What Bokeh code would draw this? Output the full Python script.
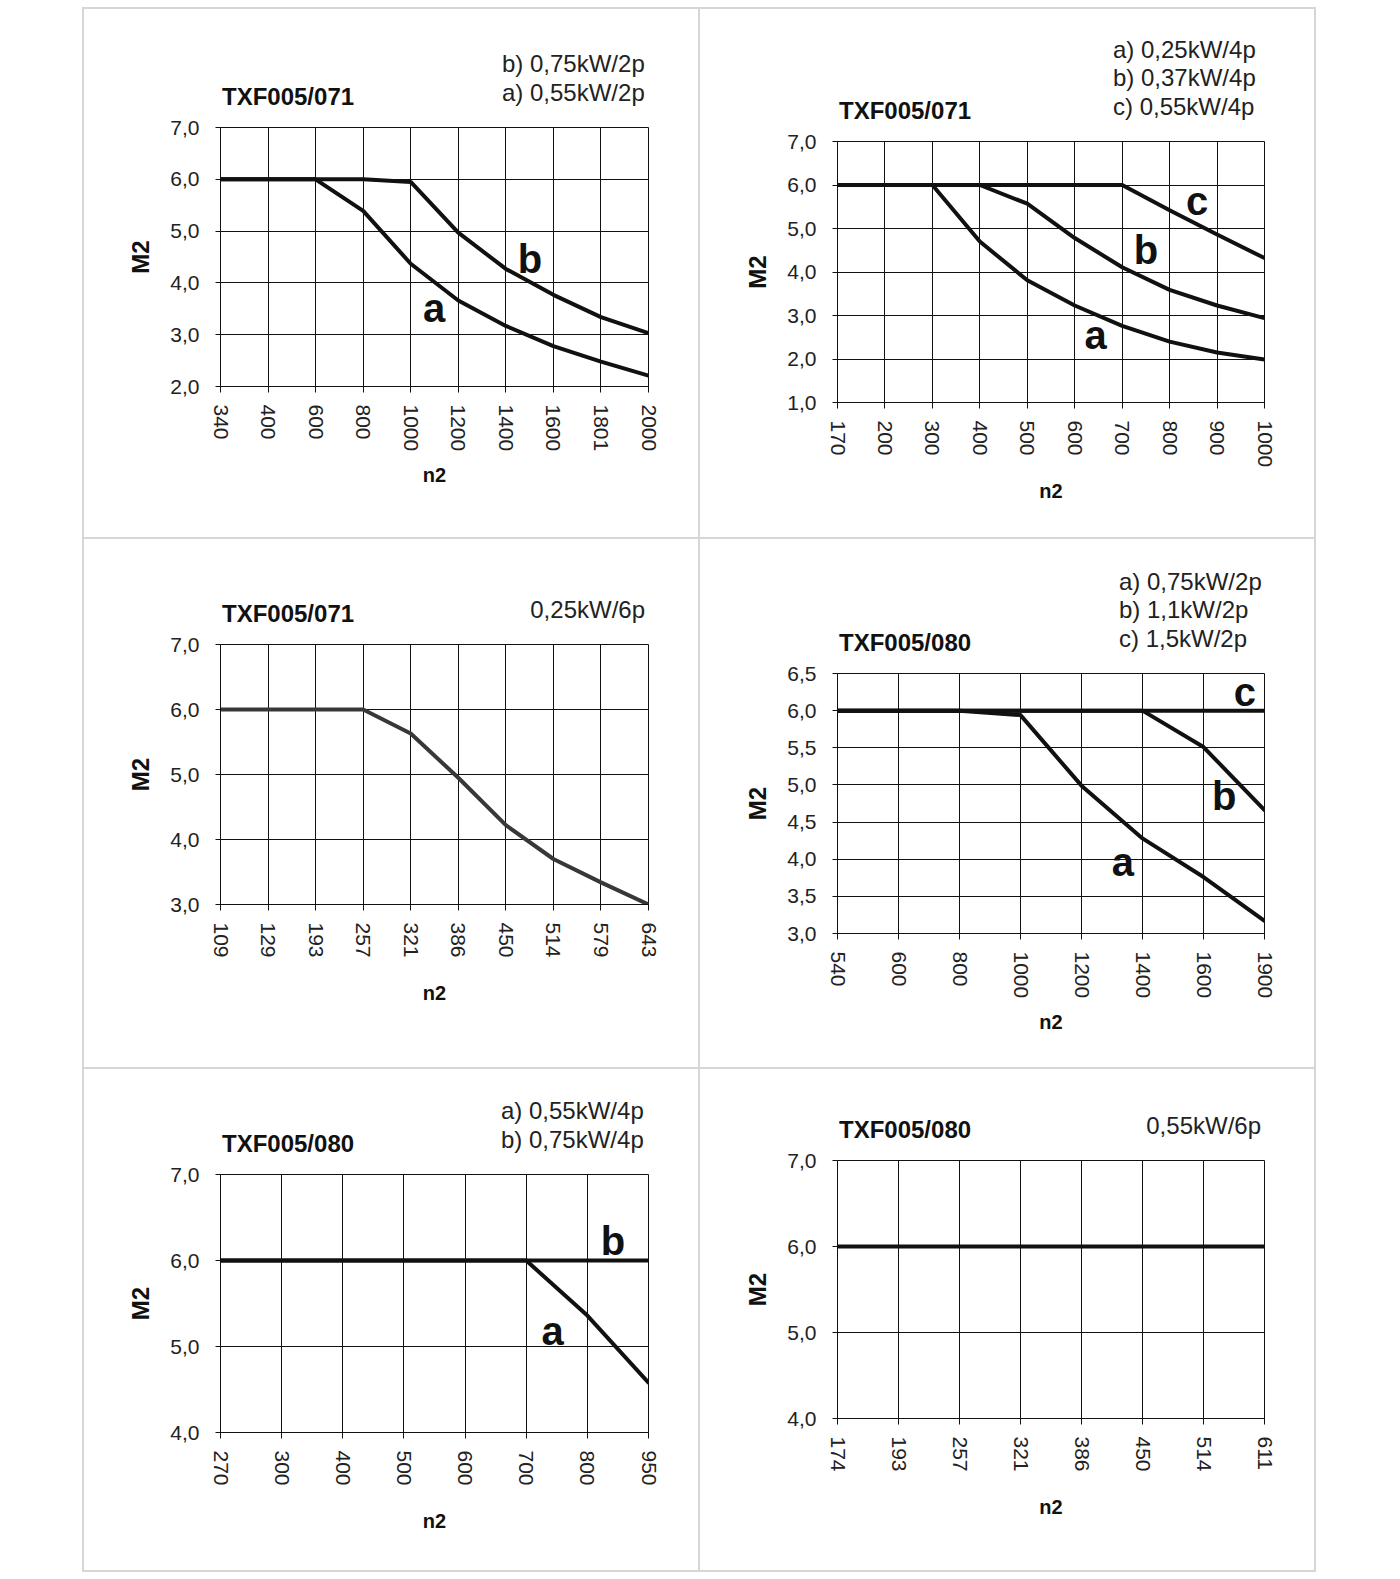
from bokeh.plotting import figure
from bokeh.models import Range1d, FixedTicker, Label, Spacer, Div
from bokeh.layouts import row, column
from bokeh.embed import file_html
from bokeh.resources import INLINE

FONT = "Liberation Sans"

# ---------------- data ----------------
# Panel 1 (top left)
p1_title = "TXF005/071"
p1_legend = ["b) 0,75kW/2p", "a) 0,55kW/2p"]
p1_n2 = ["340", "400", "600", "800", "1000", "1200", "1400", "1600", "1801", "2000"]
p1_a = [6.0, 6.0, 6.0, 5.39, 4.37, 3.66, 3.17, 2.78, 2.48, 2.21]
p1_b = [6.0, 6.0, 6.0, 6.0, 5.95, 4.97, 4.27, 3.77, 3.34, 3.03]
p1_m2 = [2.0, 3.0, 4.0, 5.0, 6.0, 7.0]
p1_m2_labels = ["2,0", "3,0", "4,0", "5,0", "6,0", "7,0"]

# Panel 2 (top right)
p2_title = "TXF005/071"
p2_legend = ["a) 0,25kW/4p", "b) 0,37kW/4p", "c) 0,55kW/4p"]
p2_n2 = ["170", "200", "300", "400", "500", "600", "700", "800", "900", "1000"]
p2_a = [6.0, 6.0, 6.0, 4.70, 3.81, 3.23, 2.76, 2.40, 2.15, 1.99]
p2_b = [6.0, 6.0, 6.0, 6.0, 5.57, 4.78, 4.11, 3.59, 3.23, 2.94]
p2_c = [6.0, 6.0, 6.0, 6.0, 6.0, 6.0, 6.0, 5.42, 4.86, 4.32]
p2_m2 = [1.0, 2.0, 3.0, 4.0, 5.0, 6.0, 7.0]
p2_m2_labels = ["1,0", "2,0", "3,0", "4,0", "5,0", "6,0", "7,0"]

# Panel 3 (middle left)
p3_title = "TXF005/071"
p3_legend = ["0,25kW/6p"]
p3_n2 = ["109", "129", "193", "257", "321", "386", "450", "514", "579", "643"]
p3_a = [6.0, 6.0, 6.0, 6.0, 5.63, 4.95, 4.22, 3.70, 3.34, 3.0]
p3_m2 = [3.0, 4.0, 5.0, 6.0, 7.0]
p3_m2_labels = ["3,0", "4,0", "5,0", "6,0", "7,0"]

# Panel 4 (middle right)
p4_title = "TXF005/080"
p4_legend = ["a) 0,75kW/2p", "b) 1,1kW/2p", "c) 1,5kW/2p"]
p4_n2 = ["540", "600", "800", "1000", "1200", "1400", "1600", "1900"]
p4_a = [6.0, 6.0, 6.0, 5.94, 4.99, 4.28, 3.76, 3.17]
p4_b = [6.0, 6.0, 6.0, 6.0, 6.0, 6.0, 5.51, 4.66]
p4_c = [6.0, 6.0, 6.0, 6.0, 6.0, 6.0, 6.0, 6.0]
p4_m2 = [3.0, 3.5, 4.0, 4.5, 5.0, 5.5, 6.0, 6.5]
p4_m2_labels = ["3,0", "3,5", "4,0", "4,5", "5,0", "5,5", "6,0", "6,5"]

# Panel 5 (bottom left)
p5_title = "TXF005/080"
p5_legend = ["a) 0,55kW/4p", "b) 0,75kW/4p"]
p5_n2 = ["270", "300", "400", "500", "600", "700", "800", "950"]
p5_a = [6.0, 6.0, 6.0, 6.0, 6.0, 6.0, 5.36, 4.58]
p5_b = [6.0, 6.0, 6.0, 6.0, 6.0, 6.0, 6.0, 6.0]
p5_m2 = [4.0, 5.0, 6.0, 7.0]
p5_m2_labels = ["4,0", "5,0", "6,0", "7,0"]

# Panel 6 (bottom right)
p6_title = "TXF005/080"
p6_legend = ["0,55kW/6p"]
p6_n2 = ["174", "193", "257", "321", "386", "450", "514", "611"]
p6_a = [6.0, 6.0, 6.0, 6.0, 6.0, 6.0, 6.0, 6.0]
p6_m2 = [4.0, 5.0, 6.0, 7.0]
p6_m2_labels = ["4,0", "5,0", "6,0", "7,0"]

# ---------------- styling / layout ----------------
PANEL_W = 614
TOP_B = 16
GRAY = "#d6d6d6"


def strip(w, h):
    return Div(text="", width=w, height=h, margin=0,
               styles={"background-color": GRAY})


def header_div(panel_w, head_h, frame_left, frame_w, title, legend, legend_dx):
    ftop = head_h + TOP_B
    spans = []
    base = ("position:absolute;transform:translateY(-50%);line-height:1;"
            "white-space:nowrap;font-family:'Liberation Sans',Arial,sans-serif;"
            "font-size:24px;")
    spans.append('<span style="%sleft:%.1fpx;top:%.1fpx;font-weight:bold;color:#111;">%s</span>'
                 % (base, frame_left + 2, ftop - 30.5, title))
    k_last = len(legend) - 1
    for i, line in enumerate(legend):
        cy = ftop - 34.5 - 28.5 * (k_last - i)
        if legend_dx is None:
            right = panel_w - (frame_left + frame_w - 3)
            pos = "right:%.1fpx;" % right
        else:
            pos = "left:%.1fpx;" % (frame_left + frame_w - legend_dx)
        spans.append('<span style="%s%stop:%.1fpx;color:#222;">%s</span>'
                     % (base, pos, cy, line))
    html = ('<div style="position:relative;width:%dpx;height:%dpx;">%s</div>'
            % (panel_w, head_h, "".join(spans)))
    return Div(text=html, width=panel_w, height=head_h, margin=0,
               styles={"background-color": "white"})


def make_panel(head_h, left, fw, fh, bottom, extra, n2, m2, m2_labels,
               series, letters, title, legend, legend_dx, n2_standoff):
    n = len(n2)
    w = PANEL_W
    h = TOP_B + fh + bottom
    p = figure(width=w, height=h, output_backend="svg", toolbar_location=None,
               x_range=Range1d(0, n - 1), y_range=Range1d(m2[0], m2[-1]),
               min_border_left=left, min_border_top=TOP_B,
               min_border_right=w - left - fw, min_border_bottom=bottom,
               background_fill_color="white", border_fill_color="white",
               margin=0)
    p.outline_line_color = "#111111"
    p.outline_line_width = 1

    xt = list(range(n))
    p.xaxis.ticker = FixedTicker(ticks=xt)
    p.xaxis.major_label_overrides = {i: lab for i, lab in enumerate(n2)}
    p.yaxis.ticker = FixedTicker(ticks=m2)
    p.yaxis.major_label_overrides = {v: lab for v, lab in zip(m2, m2_labels)}
    p.xgrid.ticker = FixedTicker(ticks=xt)
    p.ygrid.ticker = FixedTicker(ticks=m2)
    for g in (p.xgrid, p.ygrid):
        g.grid_line_color = "#111111"
        g.grid_line_alpha = 1.0
        g.grid_line_width = 1

    for ax in (p.xaxis, p.yaxis):
        ax.axis_line_color = "#111111"
        ax.major_tick_line_color = "#111111"
        ax.minor_tick_line_color = None
        ax.major_tick_in = 0
        ax.major_label_text_font = FONT
        ax.major_label_text_font_size = "21px"
        ax.major_label_text_color = "#222222"
        ax.axis_label_text_font = FONT
        ax.axis_label_text_font_style = "bold"
        ax.axis_label_text_color = "#111111"

    p.xaxis.major_tick_out = 6
    p.xaxis.major_label_standoff = 12
    p.xaxis.major_label_orientation = "vertical"
    p.xaxis.axis_label = "n2"
    p.xaxis.axis_label_text_font_size = "20px"
    p.xaxis.axis_label_standoff = n2_standoff

    p.yaxis.major_tick_out = 5
    p.yaxis.major_label_standoff = 16
    p.yaxis.axis_label = "M2"
    p.yaxis.axis_label_text_font_size = "24px"
    p.yaxis.axis_label_standoff = 13

    for vals, color in series:
        p.line(x=xt, y=vals, line_color=color, line_width=4,
               line_join="round", line_cap="round")

    for txt, lx, ly in letters:
        p.add_layout(Label(x=lx, y=ly, y_offset=2, text=txt, text_font=FONT,
                           text_font_style="bold", text_font_size="40px",
                           text_color="#111111", text_align="center",
                           text_baseline="middle"))

    head = header_div(w, head_h, left, fw, title, legend, legend_dx)
    kids = [head, p]
    if extra > 0:
        kids.append(Div(text="", width=w, height=extra, margin=0,
                        styles={"background-color": "white"}))
    return column(*kids, margin=0, spacing=0)


# row 1 (panel height 528)
f1 = make_panel(102, 136, 428, 259, 135, 16, p1_n2, p1_m2, p1_m2_labels,
                [(p1_a, "#111111"), (p1_b, "#111111")],
                [("b", 6.51, 4.43), ("a", 4.49, 3.47)],
                p1_title, p1_legend, 146, 10)
f2 = make_panel(116, 137, 427, 261, 135, 0, p2_n2, p2_m2, p2_m2_labels,
                [(p2_a, "#111111"), (p2_b, "#111111"), (p2_c, "#111111")],
                [("c", 7.58, 5.58), ("b", 6.5, 4.46), ("a", 5.44, 2.5)],
                p2_title, p2_legend, 151, 10)
# row 2 (panel height 528)
f3 = make_panel(89, 136, 428, 260, 134, 29, p3_n2, p3_m2, p3_m2_labels,
                [(p3_a, "#383838")], [],
                p3_title, p3_legend, None, 21)
f4 = make_panel(118, 137, 427, 260, 134, 0, p4_n2, p4_m2, p4_m2_labels,
                [(p4_a, "#111111"), (p4_b, "#111111"), (p4_c, "#111111")],
                [("c", 6.68, 6.22), ("b", 6.34, 4.83), ("a", 4.68, 3.94)],
                p4_title, p4_legend, 145, 10)
# row 3 (panel height 501)
f5 = make_panel(89, 136, 428, 258, 135, 3, p5_n2, p5_m2, p5_m2_labels,
                [(p5_a, "#111111"), (p5_b, "#111111")],
                [("b", 6.42, 6.20), ("a", 5.43, 5.16)],
                p5_title, p5_legend, 147, 21)
f6 = make_panel(75, 137, 427, 258, 135, 17, p6_n2, p6_m2, p6_m2_labels,
                [(p6_a, "#111111")], [],
                p6_title, p6_legend, None, 21)

TOTAL_W = 2 + PANEL_W + 2 + PANEL_W + 2
r1 = row(strip(2, 528), f1, strip(2, 528), f2, strip(2, 528), spacing=0)
r2 = row(strip(2, 528), f3, strip(2, 528), f4, strip(2, 528), spacing=0)
r3 = row(strip(2, 501), f5, strip(2, 501), f6, strip(2, 501), spacing=0)
grid = column(strip(TOTAL_W, 2), r1, strip(TOTAL_W, 2), r2,
              strip(TOTAL_W, 2), r3, strip(TOTAL_W, 2), spacing=0)
page = column(Spacer(width=10, height=7),
              row(Spacer(width=82, height=10), grid, spacing=0), spacing=0)

open("out.html", "w").write(file_html(page, INLINE))
